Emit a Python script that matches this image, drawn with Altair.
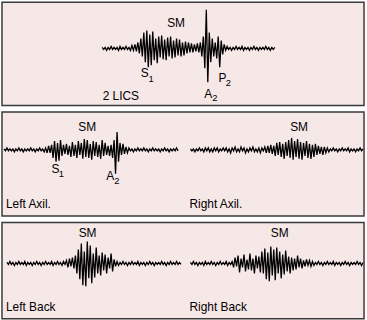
import altair as alt
import pandas as pd

# ---- waveform amplitudes (px above baseline), one sample every 1.5 time units ----
LICS = [1,-1,1,-2,1,-1,2,-1,1,-1,1,-2,2,-1,1,-1,2,-1,1,-2,
        3,-2,4,-3,6,-5,
        10,-8,16,-14,18,-19,14,-17,17,-12,10,-15,12,-9,
        13,-11,9,-12,11,-8,12,-10,8,-9,10,-7,9,-8,6,-7,7,-5,6,-4,5,-4,4,-3,5,-4,
        6,-8,12,-20,39,-34,16,-14,10,-8,
        6,-10,12,-19,8,-6,4,
        -2,2,-1,1,-2,1,-1,2,-1,1,-1,2,-2,1,-1,1,-2,1,-1,2,-1,1,-2,1,-1,1,-1,2,-1,1,-2,1,-1,1]

LEFT_AXIL = [1,-1,2,-1,1,-1,1,-2,1,-1,2,-1,1,-2,1,-1,1,-1,2,-1,1,-2,1,-1,2,-1,1,-2,2,
             -3,4,-3,5,
             -8,9,-12,7,-11,10,-6,5,
             -4,6,-5,4,-7,8,-6,5,-8,9,-5,7,-9,11,-7,10,-8,6,-10,9,-6,8,-7,5,-9,10,-6,7,-5,4,-6,5,
             -8,10,-24,18,-12,
             7,-5,6,-4,3,-3,2,
             -1,1,-2,1,-1,2,-1,1,-1,2,-1,1,-2,1,-1,2,-1,1,-1,1,-2,1,-1,2,-1,1,-2,1,-1,1,-1,2,-1]

RIGHT_AXIL = [1,-1,1,-2,1,-1,2,-1,1,-2,2,-1,2,-2,1,-2,2,-1,2,-2,1,-1,2,
              -1,2,-2,1,-3,2,-1,3,-2,1,-2,3,-1,2,-3,1,-2,2,-1,3,-2,1,-2,2,-3,2,-1,
              3,-3,4,-3,5,-4,4,
              -6,7,-5,8,-7,6,-9,8,-6,10,-8,12,-10,9,-7,11,-9,8,-10,7,-6,9,-8,6,-9,5,-7,6,-5,4,
              -4,3,-5,3,-3,2,-2,
              1,-1,2,-1,1,-2,1,-1,2,-1,1,-1,2,-2,1,-1,1,-2,1,-1,2,-1,1]

LEFT_BACK = [1,-1,2,-1,1,-2,1,-1,2,-1,1,-1,2,-2,1,-1,1,-2,1,-1,2,-1,1,-2,1,-1,2,-1,1,-1,2,-2,1,-1,2,-1,1,-2,2,-1,
             3,-4,5,-3,6,-5,8,
             -10,14,-16,20,-22,12,-23,22,-15,18,-20,10,-14,16,
             -10,8,-12,11,-7,9,-10,6,-5,10,-8,4,
             -3,2,-2,1,-1,2,-1,1,-2,1,-1,2,-1,1,-1,2,-2,1,-1,1,-2,1,-1,2,-1,1,-2,1,-1,1,-1,2,-1,1,-2,1,-1,2,-1,1,-1,2,-1,1,-1]

RIGHT_BACK = [1,-1,2,-1,1,-2,1,-1,1,-2,2,-1,1,-1,2,-1,1,-2,1,-1,2,-1,1,-1,2,-2,1,-1,2,
              -4,6,-3,8,-9,5,-4,9,-8,4,-6,10,-7,5,-10,8,-5,7,-9,
              12,-10,15,-16,11,-18,17,-12,14,-17,16,-10,12,-15,9,-11,13,-8,7,-10,
              6,-7,5,-6,8,-4,5,-5,3,
              -3,4,-2,3,-3,2,-2,1,-1,2,-1,1,-2,1,-1,2,-1,1,-1,2,-2,1,-1,1,-2,1,-1,2,-1,1,-2,1,-1,1,-1,2,-1,1,-2,1]

# ---- labels: (texts, time positions, amplitude positions) ----
P1_CENTER = (["SM"], [175.5], [22])
P1_LEFT = (["S", "A", "P", "2 LICS"], [140, 204, 218.3, 101.5], [-29, -49.8, -33.5, -52.5])
P1_SUB = (["1", "2", "2"], [147.7, 212, 225.7], [-33.5, -53.2, -37.5])
P2_CENTER = (["SM", "SM"], [86, 299.5], [19.3, 19.3])
P2_LEFT = (["S", "A", "Left Axil.", "Right Axil."], [50, 105, 4, 189], [-23.4, -30.7, -58.2, -58.2])
P2_SUB = (["1", "2"], [57.3, 113.3], [-27.4, -34])
P3_CENTER = (["SM", "SM"], [86.3, 280], [26.3, 26.3])
P3_LEFT = (["Left Back", "Right Back"], [4, 189], [-48.4, -48.4])
P3_SUB = ([], [], [])

W = 365
STEP = 1.5
FONT = "Liberation Sans"


def trace_df(vals, start, name):
    return pd.DataFrame({"t": [start + i * STEP for i in range(len(vals))],
                         "amp": vals, "trace": name})


def label_df(lab):
    return pd.DataFrame({"text": lab[0], "t": lab[1], "amp": lab[2]})


def panel(traces, center, left, sub, height, base):
    df = pd.concat([trace_df(*tr) for tr in traces], ignore_index=True)
    xs = alt.Scale(domain=[0, W], nice=False, zero=False)
    ys = alt.Scale(domain=[-(height - base), base], nice=False, zero=False)
    x = alt.X("t:Q", scale=xs, axis=None)
    y = alt.Y("amp:Q", scale=ys, axis=None)
    layers = [
        alt.Chart(df).mark_line(color="black", strokeWidth=1.3).encode(
            x=x, y=y, detail="trace:N"),
        alt.Chart(label_df(center)).mark_text(
            font=FONT, fontSize=12, align="center", baseline="alphabetic", color="black"
        ).encode(x=x, y=y, text="text:N"),
        alt.Chart(label_df(left)).mark_text(
            font=FONT, fontSize=12, align="left", baseline="alphabetic", color="black"
        ).encode(x=x, y=y, text="text:N"),
    ]
    if sub[0]:
        layers.append(alt.Chart(label_df(sub)).mark_text(
            font=FONT, fontSize=9.5, align="left", baseline="alphabetic", color="black"
        ).encode(x=x, y=y, text="text:N"))
    return alt.layer(*layers).properties(width=W, height=height)


p1 = panel([(LICS, 101, "lics")], P1_CENTER, P1_LEFT, P1_SUB, 104, 46.5)
p2 = panel([(LEFT_AXIL, 2, "la"), (RIGHT_AXIL, 190, "ra")], P2_CENTER, P2_LEFT, P2_SUB, 105, 38.3)
p3 = panel([(LEFT_BACK, 5, "lb"), (RIGHT_BACK, 190, "rb")], P3_CENTER, P3_LEFT, P3_SUB, 97, 41.3)

chart = alt.vconcat(p1, p2, p3, spacing=4.5).properties(
    padding=0, background="white"
).configure_view(
    fill="#f7e8e8", stroke="#3a3a3a", strokeWidth=1.5
)

chart.save("out.html", embed_options={"renderer": "svg", "actions": False})
